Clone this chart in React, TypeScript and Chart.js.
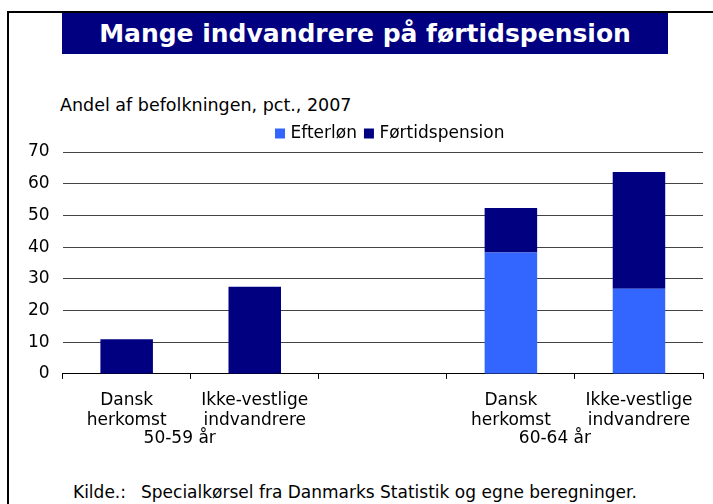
import React, { useEffect, useRef } from "react";
import { Chart, registerables } from "chart.js";

Chart.register(...registerables);

const categories: (string | string[])[] = [
  ["Dansk", "herkomst"],
  ["Ikke-vestlige", "indvandrere"],
  "",
  ["Dansk", "herkomst"],
  ["Ikke-vestlige", "indvandrere"],
];
const efterlon: (number | null)[] = [null, null, null, 38.3, 26.9];
const fortidspension: (number | null)[] = [10.9, 27.5, null, 14.0, 36.8];
const groupLabels = ["50-59 år", "60-64 år"];
const groupSpans: [number, number][] = [
  [0, 1],
  [3, 4],
];
const groupOffsetPx = [-11, -20];

const FONT = "'DejaVu Sans', Verdana, sans-serif";
const FS = 17;
const CANVAS_LEFT = 15;
const LEGEND_ROW_X = 278;

export default function App() {
  const ref = useRef<HTMLCanvasElement | null>(null);

  useEffect(() => {
    if (!ref.current) return;
    const groupPlugin = {
      id: "groupLabels",
      beforeDraw(chart: any) {
        const lg = chart.legend;
        if (lg) {
          const pad = lg.options.labels.padding;
          lg.left = LEGEND_ROW_X - pad - CANVAS_LEFT;
        }
      },
      afterDraw(chart: any) {
        const { ctx, chartArea } = chart;
        const x = chart.scales.x;
        ctx.save();
        ctx.font = `${FS}px ${FONT}`;
        ctx.fillStyle = "#000";
        ctx.textAlign = "center";
        ctx.textBaseline = "middle";
        groupLabels.forEach((g, i) => {
          const [a, b] = groupSpans[i];
          const cx = (x.getPixelForValue(a) + x.getPixelForValue(b)) / 2 + groupOffsetPx[i];
          ctx.fillText(g, cx, chartArea.bottom + 65);
        });
        ctx.restore();
      },
    };
    const chart = new Chart(ref.current, {
      type: "bar",
      data: {
        labels: categories as any,
        datasets: [
          {
            label: "Efterløn",
            data: efterlon,
            backgroundColor: "#3366FF",
            borderWidth: 0,
            pointStyle: "rect",
            barPercentage: 0.41,
            categoryPercentage: 1,
          },
          {
            label: "Førtidspension",
            data: fortidspension,
            backgroundColor: "#000080",
            borderWidth: 0,
            pointStyle: "rect",
            barPercentage: 0.41,
            categoryPercentage: 1,
          },
        ],
      },
      options: {
        animation: false,
        responsive: false,
        maintainAspectRatio: false,
        layout: { padding: { left: 0, right: 49, top: 0, bottom: 18 } },
        plugins: {
          legend: {
            display: true,
            position: "top",
            align: "start",
            labels: {
              usePointStyle: true,
              boxWidth: 4,
              boxHeight: 10,
              padding: 10,
              color: "#000",
              font: { size: FS, family: FONT },
            },
          },
          title: { display: false },
          tooltip: { enabled: false },
        },
        scales: {
          x: {
            stacked: true,
            offset: true,
            grid: {
              display: true,
              offset: true,
              drawOnChartArea: false,
              drawTicks: true,
              tickLength: 5,
              tickColor: "#000",
              tickWidth: 1,
            },
            border: { display: true, color: "#000", width: 1 },
            ticks: {
              color: "#000",
              font: { size: FS, family: FONT, lineHeight: 1.15 },
              padding: 12,
              maxRotation: 0,
              autoSkip: false,
            },
          },
          y: {
            stacked: true,
            min: 0,
            max: 70,
            grid: { color: "#444", drawTicks: false, lineWidth: 1 },
            border: { display: false },
            ticks: {
              stepSize: 10,
              color: "#000",
              padding: 13,
              font: { size: FS, family: FONT },
            },
          },
        },
      },
      plugins: [groupPlugin],
    });
    return () => chart.destroy();
  }, []);

  return (
    <div
      style={{
        position: "fixed",
        left: 0,
        top: 0,
        width: 713,
        height: 504,
        overflow: "hidden",
        background: "#fff",
        fontFamily: FONT,
        color: "#000",
      }}
    >
      <div
        style={{
          position: "absolute",
          left: 7,
          top: 11,
          width: 900,
          height: 700,
          border: "2px solid #000",
          boxSizing: "border-box",
        }}
      />
      <div
        style={{
          position: "absolute",
          left: 62,
          top: 13,
          width: 606,
          height: 41,
          background: "#000080",
          color: "#fff",
          fontWeight: "bold",
          fontSize: 25,
          lineHeight: "41px",
          textAlign: "center",
          whiteSpace: "nowrap",
        }}
      >
        Mange indvandrere på førtidspension
      </div>
      <div
        style={{
          position: "absolute",
          left: 60,
          top: 94,
          fontSize: 17.5,
          lineHeight: "22px",
          whiteSpace: "nowrap",
        }}
      >
        Andel af befolkningen, pct., 2007
      </div>
      <canvas
        ref={ref}
        width={737}
        height={345}
        style={{ position: "absolute", left: CANVAS_LEFT, top: 115, width: 737, height: 345 }}
      />
      <div
        style={{
          position: "absolute",
          left: 73,
          top: 481,
          fontSize: FS,
          lineHeight: "22px",
          whiteSpace: "nowrap",
        }}
      >
        Kilde.:
      </div>
      <div
        style={{
          position: "absolute",
          left: 141,
          top: 481,
          fontSize: FS,
          lineHeight: "22px",
          whiteSpace: "nowrap",
        }}
      >
        Specialkørsel fra Danmarks Statistik og egne beregninger.
      </div>
    </div>
  );
}
